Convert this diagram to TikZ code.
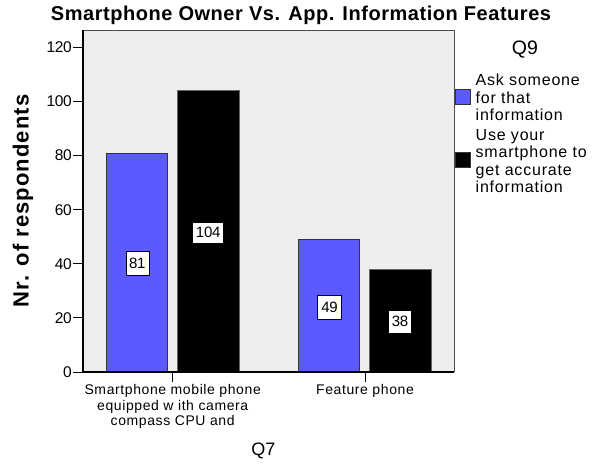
\documentclass[tikz,border=0pt]{standalone}
\usepackage{fontspec}
\setmainfont{Liberation Sans}
\definecolor{plotbg}{RGB}{238,238,238}
\definecolor{barblue}{RGB}{90,90,255}
\tikzset{
  barA/.style={fill=barblue,draw=black!80,line width=0.8pt},
  barB/.style={fill=black,draw=black!60,line width=0.8pt},
  vallabel/.style={fill=white,draw=black,line width=0.6pt,inner sep=0pt,font=\fontsize{15}{17}\selectfont\addfontfeature{LetterSpace=-2}},
  ticklabel/.style={anchor=east,inner sep=0pt,font=\fontsize{15.5}{17}\selectfont\addfontfeature{LetterSpace=-2}},
  catlabel/.style={anchor=north,inner sep=0pt,align=center,font=\fontsize{14}{15.8}\selectfont\addfontfeature{LetterSpace=4.3}},
  legtext/.style={anchor=west,inner sep=0pt,align=left,font=\fontsize{16}{17.3}\selectfont\addfontfeature{LetterSpace=5}},
  legbox/.style={draw=black!80,line width=0.6pt,minimum width=15pt,minimum height=15pt,inner sep=0pt}
}
\begin{document}
\begin{tikzpicture}[x=1pt,y=-1pt]
\useasboundingbox (0,0) rectangle (606,466);
\fill[white] (0,0) rectangle (606,466);
% plot area
\fill[plotbg] (83,30) rectangle (454,372);
\draw[black!70,line width=0.8pt] (83,30) -- (454,30) -- (454,372);
% bars
\draw[barA] (106.7,372) rectangle (167.3,153.0);
\draw[barB] (177.3,372) rectangle (239,90.7);
\draw[barA] (298.7,372) rectangle (359.7,239.5);
\draw[barB] (369.3,372) rectangle (431,269.2);
% axes
\draw[line width=1.2pt] (83,30) -- (83,372) -- (454,372);
% y ticks
\foreach \v/\n in {0/t0,20/t20,40/t40,60/t60,80/t80,100/t100,120/t120}{
  \coordinate (\n) at (73,{372-2.705*\v});
  \draw[line width=1pt] (\n) -- ++(10,0);
  \node[ticklabel] (l\n) at ([xshift=-1pt]\n) {\v};
}
% x ticks
\coordinate (c1) at (172.7,372);
\coordinate (c2) at (365,372);
\draw[line width=1pt] (c1) -- ++(0,10);
\draw[line width=1pt] (c2) -- ++(0,10);
\node[catlabel] (cat1) at (172.7,384) {Smartphone mobile phone\\equipped w ith camera\\compass CPU and};
\node[catlabel] (cat2) at (365,384) {Feature phone};
% value labels
\node[vallabel,minimum width=23pt,minimum height=24pt] (v81) at (137.3,263.7) {81};
\node[vallabel,minimum width=31pt,minimum height=21pt] (v104) at (208.2,232.6) {104};
\node[vallabel,minimum width=24pt,minimum height=24pt] (v49) at (329.5,307) {49};
\node[vallabel,minimum width=23pt,minimum height=23pt] (v38) at (400,321.6) {38};
% title and axis titles
\node[font=\fontsize{20}{22}\selectfont\bfseries\addfontfeature{LetterSpace=2.7},inner sep=0pt] (title) at (301,15) {Smartphone Owner Vs. App. Information Features};
\node[font=\fontsize{22}{24}\selectfont\bfseries\addfontfeature{LetterSpace=4.8},rotate=90,inner sep=0pt] (ytitle) at (23,201) {Nr. of respondents};
\node[font=\fontsize{18}{20}\selectfont,inner sep=0pt] (xtitle) at (263.5,451) {Q7};
% legend
\node[font=\fontsize{19.5}{21}\selectfont,inner sep=0pt] (q9) at (525,50) {Q9};
\node[legbox,fill=barblue,anchor=west] (lb1) at (455,96.3) {};
\node[legbox,fill=black,anchor=west] (lb2) at (455,159.7) {};
\node[legtext] (lt1) at (475.5,97.5) {Ask someone\\for that\\information};
\node[legtext] (lt2) at (475.5,161) {Use your\\smartphone to\\get accurate\\information};
\end{tikzpicture}
\end{document}
